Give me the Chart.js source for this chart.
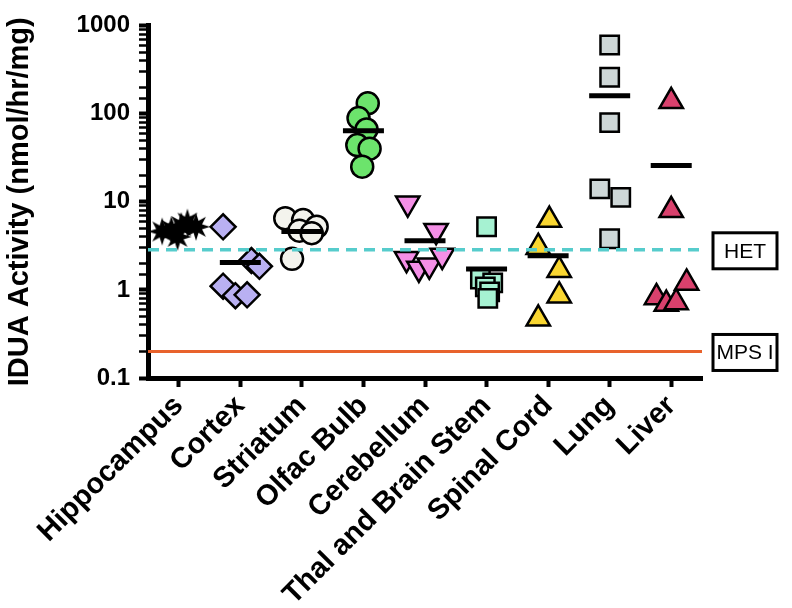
<!DOCTYPE html>
<html>
<head>
<meta charset="utf-8">
<script src="https://cdn.jsdelivr.net/npm/chart.js@4.4.1/dist/chart.umd.min.js"></script>
<style>
  html, body { margin: 0; padding: 0; background: #fff; }
  #wrap { width: 792px; height: 608px; }
</style>
</head>
<body>
<div id="wrap"><canvas id="myChart"></canvas></div>
<script>
const categories = ['Hippocampus', 'Cortex', 'Striatum', 'Olfac Bulb', 'Cerebellum',
  'Thal and Brain Stem', 'Spinal Cord', 'Lung', 'Liver'];

// values (nmol/hr/mg), with small horizontal jitter (category units)
const hippocampus = [4.8, 5.8, 4.0, 5.2, 4.6, 5.3];
const hippocampusJit = [-0.12, 0.14, -0.02, 0.28, -0.27, 0.04];
const cortex = [5.2, 2.15, 1.85, 1.1, 0.86, 0.88];
const cortexJit = [-0.28, 0.18, 0.31, -0.28, -0.08, 0.11];
const striatum = [6.5, 6.2, 5.2, 4.7, 4.4, 2.25];
const striatumJit = [-0.27, 0.02, 0.24, -0.04, 0.16, -0.16];
const olfacBulb = [131, 89, 66, 44, 40, 25];
const olfacBulbJit = [0.07, -0.08, 0.05, -0.1, 0.1, -0.02];
const cerebellum = [9.6, 4.7, 2.25, 1.75, 1.9, 2.45];
const cerebellumJit = [-0.28, 0.18, -0.3, -0.1, 0.07, 0.28];
const thalBrainStem = [5.2, 1.33, 1.2, 1.08, 0.95, 0.8];
const thalBrainStemJit = [0.0, -0.1, 0.1, -0.02, 0.05, 0.02];
const spinalCord = [6.2, 3.05, 1.67, 0.86, 0.47];
const spinalCordJit = [0.02, -0.16, 0.18, 0.18, -0.16];
const lung = [600, 259, 79, 14, 11.2, 3.8];
const lungJit = [0.0, 0.0, 0.0, -0.16, 0.18, 0.0];
const liver = [138, 8.0, 1.2, 0.82, 0.69, 0.72];
const liverJit = [0.0, 0.0, 0.25, -0.24, -0.08, 0.08];

const means = [4.8, 2.05, 4.6, 64, 3.6, 1.72, 2.44, 160, 25.8];
const hetLevel = 2.85;
const mpsLevel = 0.2;

const FONT = '"Liberation Sans", Arial, Helvetica, sans-serif';

// filled black star marker for Hippocampus
function makeStar() {
  const c = document.createElement('canvas');
  c.width = 30; c.height = 30;
  const g = c.getContext('2d');
  g.beginPath();
  const n = 8, ro = 14, ri = 6.5;
  for (let k = 0; k < n * 2; k++) {
    const r = k % 2 ? ri : ro;
    const a = -Math.PI / 2 + k * Math.PI / n;
    g.lineTo(15 + r * Math.cos(a), 15 + r * Math.sin(a));
  }
  g.closePath();
  g.fillStyle = '#000';
  g.fill();
  return c;
}
const starIcon = makeStar();

function pts(vals, jit, idx) {
  return vals.map((v, k) => ({ x: idx + jit[k], y: v }));
}

function group(vals, jit, idx, style, color, radius, rotation) {
  return {
    type: 'scatter',
    data: pts(vals, jit, idx),
    pointStyle: style,
    pointRadius: radius,
    pointRotation: rotation || 0,
    backgroundColor: color,
    borderColor: '#000',
    borderWidth: 2.5,
    order: 5
  };
}

const datasets = [
  group(hippocampus, hippocampusJit, 0, starIcon, '#000', 13),
  group(cortex, cortexJit, 1, 'rectRot', '#b9b0f2', 12.5),
  group(striatum, striatumJit, 2, 'circle', '#f3f3ed', 11),
  group(olfacBulb, olfacBulbJit, 3, 'circle', '#6ce46c', 11),
  group(cerebellum, cerebellumJit, 4, 'triangle', '#f48fe6', 13.5, 180),
  group(thalBrainStem, thalBrainStemJit, 5, 'rect', '#a6f2d2', 13),
  group(spinalCord, spinalCordJit, 6, 'triangle', '#f9d631', 13.5),
  group(lung, lungJit, 7, 'rect', '#cdd6d6', 13),
  group(liver, liverJit, 8, 'triangle', '#d9416d', 13.5),
  {
    type: 'scatter',
    data: means.map((m, i) => ({ x: i, y: m })),
    pointStyle: 'line',
    pointRadius: 20.5,
    borderColor: '#000',
    borderWidth: 5,
    order: 2
  },
  {
    type: 'line',
    data: [{ x: -0.5, y: hetLevel }, { x: 8.5, y: hetLevel }],
    borderColor: '#56cccc',
    borderWidth: 3.5,
    borderDash: [11, 7],
    pointRadius: 0,
    order: 1
  },
  {
    type: 'line',
    data: [{ x: -0.5, y: mpsLevel }, { x: 8.5, y: mpsLevel }],
    borderColor: '#e8622c',
    borderWidth: 3,
    pointRadius: 0,
    order: 1
  }
];

// boxed labels to the right of the reference lines
const refBoxes = {
  id: 'refBoxes',
  afterDraw(chart) {
    const g = chart.ctx;
    const ys = chart.scales.y;
    const x0 = chart.chartArea.right + 11;
    [['HET', hetLevel], ['MPS I', mpsLevel]].forEach(([txt, v]) => {
      const y = ys.getPixelForValue(v);
      g.save();
      g.lineWidth = 3;
      g.strokeStyle = '#000';
      g.strokeRect(x0, y - 17, 64, 36);
      g.fillStyle = '#000';
      g.font = '21px ' + FONT;
      g.textAlign = 'center';
      g.textBaseline = 'middle';
      g.fillText(txt, x0 + 32, y + 2);
      g.restore();
    });
  }
};

const ctx = document.getElementById('myChart').getContext('2d');
const myChart = new Chart(ctx, {
  type: 'scatter',
  data: { datasets: datasets },
  options: {
    responsive: true,
    maintainAspectRatio: false,
    animation: false,
    layout: { padding: { top: 15, right: 90, left: 0, bottom: 0 } },
    plugins: { legend: { display: false }, tooltip: { enabled: false } },
    scales: {
      x: {
        type: 'linear',
        min: -0.5,
        max: 8.5,
        afterBuildTicks: (s) => { s.ticks = categories.map((c, i) => ({ value: i })); },
        afterFit: (s) => { s.height = 230; },
        border: { color: '#000', width: 5 },
        grid: { drawOnChartArea: false, drawTicks: true, tickLength: 9, tickColor: '#000', tickWidth: 4 },
        ticks: {
          autoSkip: false,
          minRotation: 45,
          maxRotation: 45,
          padding: 2,
          color: '#000',
          font: { family: FONT, size: 29, weight: 'bold' },
          callback: (v) => categories[v]
        }
      },
      y: {
        type: 'logarithmic',
        min: 0.1,
        max: 1000,
        afterFit: (s) => { s.width = 148; },
        border: { color: '#000', width: 5 },
        grid: {
          drawOnChartArea: false,
          drawTicks: true,
          tickLength: 9,
          tickColor: '#000',
          tickWidth: (c) => {
            const l = Math.log10(c.tick.value);
            return Math.abs(l - Math.round(l)) < 1e-6 ? 4 : 2.5;
          }
        },
        ticks: {
          autoSkip: false,
          padding: 9,
          color: '#000',
          font: { family: FONT, size: 24, weight: 'bold' },
          callback: (v) => {
            const l = Math.log10(v);
            if (Math.abs(l - Math.round(l)) > 1e-6) return '';
            return String(Math.round(v * 10) / 10);
          }
        },
        title: {
          display: true,
          text: 'IDUA Activity (nmol/hr/mg)',
          color: '#000',
          font: { family: FONT, size: 29, weight: 'bold' },
          padding: { top: 3, bottom: 4 }
        }
      }
    }
  },
  plugins: [refBoxes]
});
</script>
</body>
</html>
